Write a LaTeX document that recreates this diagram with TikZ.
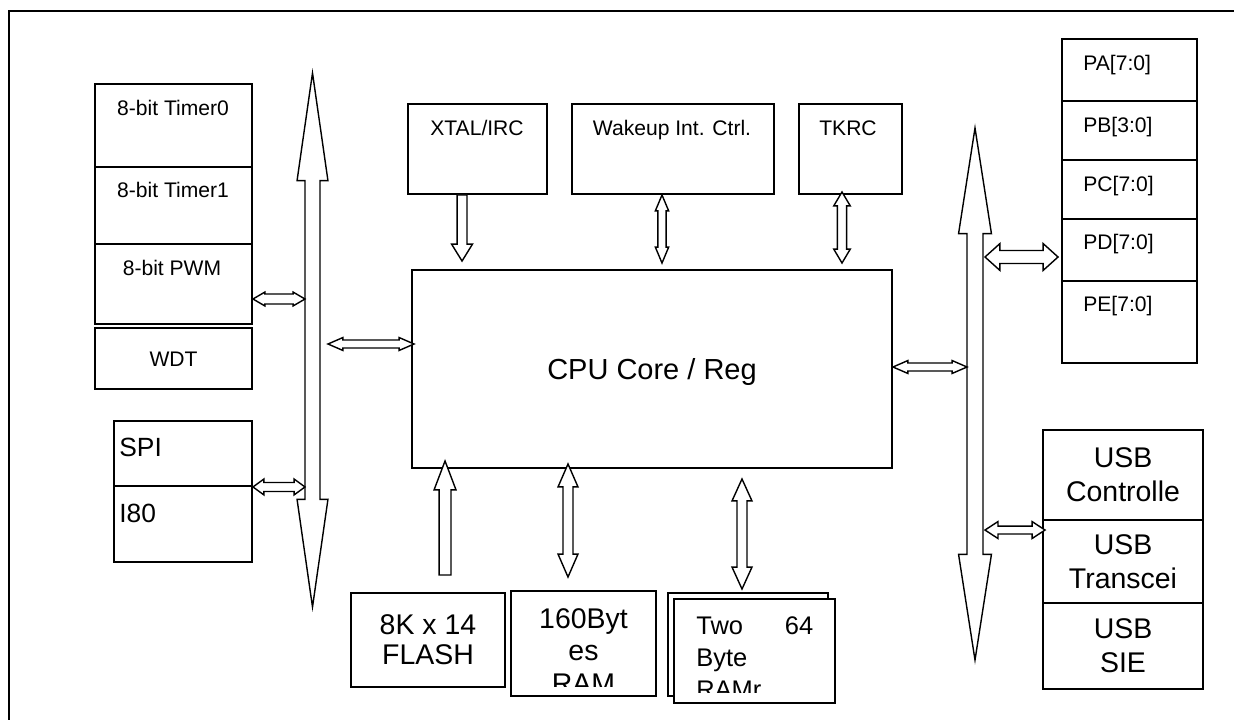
\documentclass[tikz,border=0pt]{standalone}
\usepackage{fontspec}
\setmainfont{Liberation Sans}
\usetikzlibrary{calc}

\newcommand\pxu{0.5669pt}
% vertical double arrow: top tip, bottom tip, shaft half, head half, head length
\newcommand\vdbl[5]{%
  \draw[blk] let \p1=#1, \p2=#2 in
    (\x1,\y1) -- (\x1+#4*\pxu,\y1-#5*\pxu) -- (\x1+#3*\pxu,\y1-#5*\pxu)
    -- (\x1+#3*\pxu,\y2+#5*\pxu) -- (\x1+#4*\pxu,\y2+#5*\pxu) -- (\x1,\y2)
    -- (\x1-#4*\pxu,\y2+#5*\pxu) -- (\x1-#3*\pxu,\y2+#5*\pxu)
    -- (\x1-#3*\pxu,\y1-#5*\pxu) -- (\x1-#4*\pxu,\y1-#5*\pxu) -- cycle;}
% horizontal double arrow: left tip, right tip, shaft half, head half, head length
\newcommand\hdbl[5]{%
  \draw[blk] let \p1=#1, \p2=#2 in
    (\x1,\y1) -- (\x1+#5*\pxu,\y1+#4*\pxu) -- (\x1+#5*\pxu,\y1+#3*\pxu)
    -- (\x2-#5*\pxu,\y1+#3*\pxu) -- (\x2-#5*\pxu,\y1+#4*\pxu) -- (\x2,\y1)
    -- (\x2-#5*\pxu,\y1-#4*\pxu) -- (\x2-#5*\pxu,\y1-#3*\pxu)
    -- (\x1+#5*\pxu,\y1-#3*\pxu) -- (\x1+#5*\pxu,\y1-#4*\pxu) -- cycle;}
% vertical single arrow: tail, tip, shaft half, head half, head length
\newcommand\vone[5]{%
  \draw[blk] let \p1=#1, \p2=#2, \n1={(\y2-\y1)/abs(\y2-\y1)} in
    (\x2,\y2) -- (\x2+#4*\pxu,{\y2-(\n1)*#5*\pxu}) -- (\x2+#3*\pxu,{\y2-(\n1)*#5*\pxu})
    -- (\x2+#3*\pxu,\y1) -- (\x2-#3*\pxu,\y1)
    -- (\x2-#3*\pxu,{\y2-(\n1)*#5*\pxu}) -- (\x2-#4*\pxu,{\y2-(\n1)*#5*\pxu}) -- cycle;}

\begin{document}
\begin{tikzpicture}[x=0.02cm,y=-0.02cm,
  box/.style={draw,line width=1.1pt,inner sep=0pt},
  sz/.style 2 args={minimum width=#1*0.02cm,minimum height=#2*0.02cm},
  blk/.style={draw,fill=white,line width=0.8pt,line join=miter},
  txa/.style={font=\fontsize{12}{14}\selectfont,inner sep=0pt,text height=8.6pt,text depth=0pt},
  txb/.style={font=\fontsize{15}{18}\selectfont,inner sep=0pt,text height=10.7pt,text depth=0pt},
  txc/.style={font=\fontsize{16.2}{19.3}\selectfont,inner sep=0pt,align=center}]
\clip (0,0) rectangle (1234,720);
\draw[line width=1.4pt] (9,730) -- (9,11) -- (1244,11);

% timers, wdt, spi
\node[box,sz={157}{83}] (tm0) at (173.5,125.5) {};
\node[box,sz={157}{77}] (tm1) at (173.5,205.5) {};
\node[box,sz={157}{80}] (pwm) at (173.5,284) {};
\node[box,sz={157}{61},txa] (wdt) at (173.5,358.5) {WDT};
\node[txa] (tm0t) at (173,108) {8-bit Timer0};
\node[txa] (tm1t) at (173,190) {8-bit Timer1};
\node[txa] (pwmt) at (172,268) {8-bit PWM};
\node[box,sz={138}{65}] (spi) at (183,453.5) {};
\node[box,sz={138}{76}] (iei) at (183,524) {};
\node[txb,anchor=west] (spit) at (119,447) {SPI};
\node[txb,anchor=west] (ieit) at (119,513) {I80};

% top blocks and core
\node[box,sz={139}{90}] (xtal) at (477.5,149) {};
\node[box,sz={202}{90}] (wake) at (673,149) {};
\node[box,sz={103}{90}] (tkrc) at (850.5,149) {};
\node[txa] (xtalt) at (477,128) {XTAL/IRC};
\node[txa] (waket) at (672,128) {Wakeup Int. Ctrl.};
\node[txa] (tkrct) at (848,128) {TKRC};
\node[box,sz={480}{198},font=\fontsize{16.5}{20}\selectfont,text height=11.8pt,text depth=0pt] (cpu) at (652,369) {CPU Core / Reg};

% ports
\node[box,sz={135}{62}] (pa) at (1129.5,70) {};
\node[box,sz={135}{59}] (pb) at (1129.5,130.5) {};
\node[box,sz={135}{59}] (pc) at (1129.5,189.5) {};
\node[box,sz={135}{62}] (pd) at (1129.5,250) {};
\node[box,sz={135}{82}] (pe) at (1129.5,322) {};
\node[txa,anchor=west] (pat) at (1083,63) {PA[7:0]};
\node[txa,anchor=west] (pbt) at (1083,125) {PB[3:0]};
\node[txa,anchor=west] (pct) at (1083,184) {PC[7:0]};
\node[txa,anchor=west] (pdt) at (1083,242) {PD[7:0]};
\node[txa,anchor=west] (pet) at (1083,304) {PE[7:0]};

% usb
\node[box,sz={160}{90},txc] (usbc) at (1123,475) {USB\\Controlle};
\node[box,sz={160}{83},txc] (usbt) at (1123,561.5) {USB\\Transcei};
\node[box,sz={160}{86},txc] (usbs) at (1123,646) {USB\\SIE};

% memories
\node[box,sz={154}{94},txc,font=\fontsize{16.2}{17}\selectfont] (flash) at (428,640) {8K x 14\\FLASH};
\node[box,sz={145}{105}] (ram) at (583.5,643.5) {};
\node[box,sz={160}{103}] (tworb) at (748,644.5) {};
\node[box,sz={161}{104},fill=white] (tworf) at (754.5,651) {};
\begin{scope}
\clip (513,593) rectangle (654,686);
\node[txc,font=\fontsize{16.2}{18.6}\selectfont] (ramt) at (583.5,651) {160Byt\\es\\RAM};
\end{scope}
\begin{scope}
\clip (676,601) rectangle (833,692);
\node[inner sep=0pt,align=left,anchor=west,font=\fontsize{14.5}{18.4}\selectfont] (twot) at (696,657.5) {Two\hspace{23.8pt}64\\Byte\\RAMr};
\end{scope}

% buses
\coordinate (lbt) at (312.5,73);
\coordinate (lbb) at (312.5,607);
\coordinate (rbt) at (975,128);
\coordinate (rbb) at (975,660);
\vdbl{(lbt)}{(lbb)}{7.5}{15.5}{108}
\vdbl{(rbt)}{(rbb)}{8}{16.5}{106}

% bus links
\hdbl{($(pwm.east)+(0,15)$)}{($(pwm.east -| lbt)+(-7.5,15)$)}{5}{7}{12}
\hdbl{(spi.south east)}{($(spi.south east -| lbt)+(-7.5,0)$)}{4.5}{8}{11}
\hdbl{($(cpu.west -| lbt)+(15.5,-25)$)}{($(cpu.west)+(3,-25)$)}{4}{6.5}{15}
\hdbl{($(cpu.east)+(0,-2)$)}{($(cpu.east -| rbt)+(-8,-2)$)}{4}{6.5}{15}
\hdbl{($(pd.west -| rbt)+(10,7)$)}{($(pd.west)+(-3,7)$)}{6.5}{13.5}{15}
\hdbl{($(usbt.north west -| rbt)+(10,11)$)}{($(usbt.north west)+(3,11)$)}{4}{8.5}{13}

% core links
\vone{($(xtal.south)+(-14.5,0)$)}{($(cpu.north west)+(51,-8)$)}{5}{10.5}{17}
\vdbl{($(wake.south)+(-11,0)$)}{($(cpu.north)+(10,-6)$)}{4.2}{6.7}{16}
\vdbl{($(tkrc.south)+(-8.5,-3)$)}{($(cpu.north)+(190,-6)$)}{4.7}{8.3}{14}
\vone{($(flash.north)+(18,-17)$)}{($(cpu.south west)+(34,-8)$)}{6}{11}{29}
\vdbl{($(cpu.south)+(-84,-5)$)}{($(ram.north)+(-15.5,-13)$)}{5}{10}{23}
\vdbl{($(cpu.south)+(90,10)$)}{($(tworb.north)+(-6,-3)$)}{5}{10}{22}
\end{tikzpicture}
\end{document}
